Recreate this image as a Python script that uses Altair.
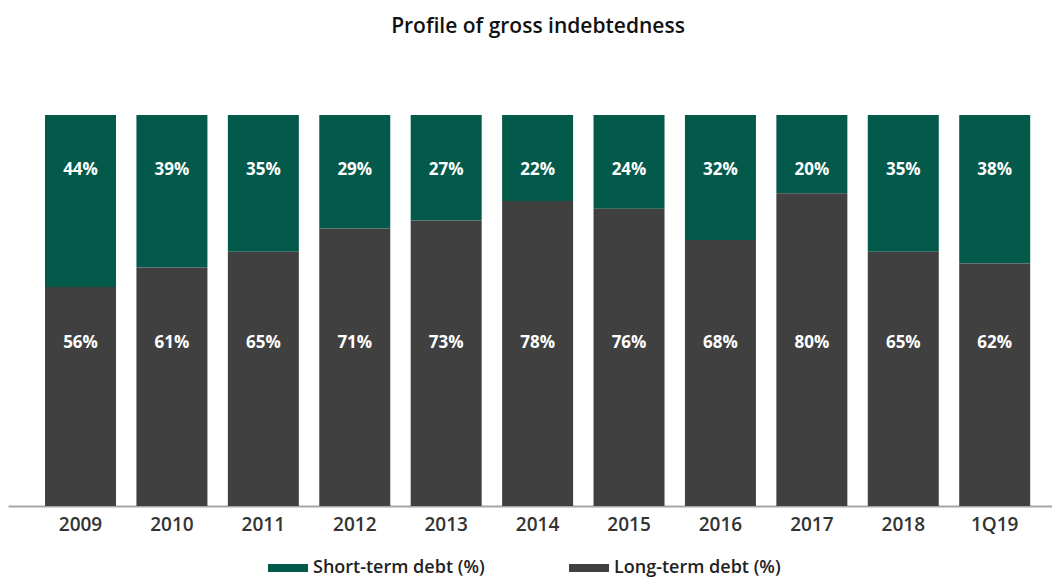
import altair as alt
import pandas as pd

periods = ["2009", "2010", "2011", "2012", "2013", "2014", "2015", "2016", "2017", "2018", "1Q19"]
short_term = [44, 39, 35, 29, 27, 22, 24, 32, 20, 35, 38]
long_term = [56, 61, 65, 71, 73, 78, 76, 68, 80, 65, 62]
series_names = ["Short-term debt (%)", "Long-term debt (%)"]
series_colors = ["#035A4B", "#404040"]

rows = []
for p, s, l in zip(periods, short_term, long_term):
    rows.append({"period": p, "series": series_names[0], "value": s, "ord": 1})
    rows.append({"period": p, "series": series_names[1], "value": l, "ord": 0})
df = pd.DataFrame(rows)

FONT = "Open Sans"

x_enc = alt.X(
    "period:N",
    sort=periods,
    title=None,
    scale=alt.Scale(paddingInner=0.22, paddingOuter=0.32, align=0.63),
    axis=alt.Axis(
        labelAngle=0, labelFont=FONT, labelFontSize=19, labelFontWeight=600,
        labelColor="#333333", labelPadding=9, ticks=False,
        domainColor="#A6A6A6", domainWidth=2,
    ),
)

bars = alt.Chart(df).mark_bar(size=71).encode(
    x=x_enc,
    y=alt.Y("value:Q", stack="zero", scale=alt.Scale(domain=[0, 100], nice=False),
            axis=None),
    color=alt.Color(
        "series:N",
        scale=alt.Scale(domain=series_names, range=series_colors),
        legend=alt.Legend(
            title=None, orient="none", direction="horizontal",
            legendX=260, legendY=433,
            symbolType="M-1,-0.2H1V0.2H-1Z", symbolSize=1600,
            symbolStrokeWidth=0,
            labelFont=FONT, labelFontSize=18, labelFontWeight=600,
            labelColor="#222222", labelLimit=300,
            labelOffset=5, columnPadding=84,
        ),
    ),
    order=alt.Order("ord:Q"),
)

labels = alt.Chart(df).transform_calculate(
    pos="datum.ord == 1 ? 86 : 41.7"
).mark_text(
    color="white", font=FONT, fontSize=17, fontWeight="bold", baseline="middle"
).encode(
    x=alt.X("period:N", sort=periods),
    y=alt.Y("pos:Q"),
    text=alt.Text("label:N"),
).transform_calculate(label="datum.value + '%'")

chart = alt.layer(bars, labels).properties(
    width=1044,
    height=391,
    title=alt.TitleParams(
        "Profile of gross indebtedness", font=FONT, fontSize=21, fontWeight=600,
        color="#111111", anchor="middle", offset=78, dx=8,
    ),
    autosize=alt.AutoSizeParams(type="none"),
    padding={"left": 0, "top": 107, "right": 0, "bottom": 72},
).configure_view(stroke=None)

chart.save("out.html", embed_options={"renderer": "svg", "actions": False})
